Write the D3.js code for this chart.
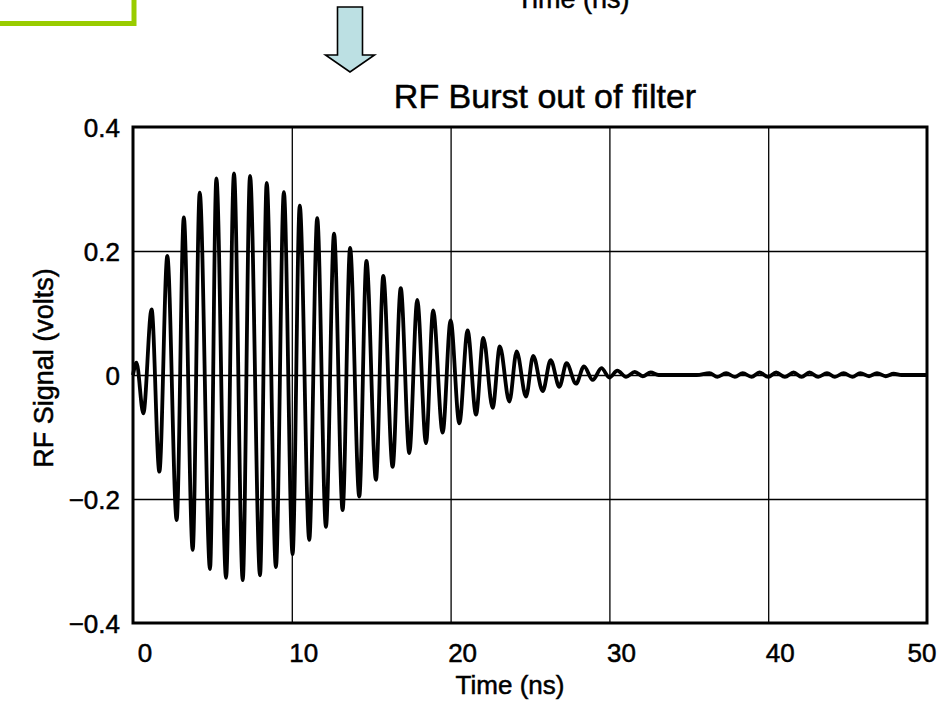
<!DOCTYPE html>
<html>
<head>
<meta charset="utf-8">
<script src="https://cdn.jsdelivr.net/npm/d3@7"></script>
<style>
  html, body { margin: 0; padding: 0; background: #fff; }
  svg { display: block; }
  text { font-family: "Liberation Sans", Arial, Helvetica, sans-serif; fill: #000; stroke: #000; stroke-width: 0.5px; }
</style>
</head>
<body>
<svg id="chart" width="944" height="706"></svg>
<script>
// ---- data ----
const chartTitle = "RF Burst out of filter";
const xLabel = "Time (ns)";
const yLabel = "RF Signal (volts)";
const xTicks = [0, 10, 20, 30, 40, 50];
const xTickLabels = ["0", "10", "20", "30", "40", "50"];
const yTicks = [-0.4, -0.2, 0, 0.2, 0.4];
const yTickLabels = ["\u22120.4", "\u22120.2", "0", "0.2", "0.4"];

// burst: alternating extrema (ns, volts)
const burstTime = [0, 0.22, 0.65, 1.17, 1.66, 2.16, 2.75, 3.2, 3.76, 4.2, 4.85, 5.25, 5.86, 6.36, 6.91, 7.37,
  8.0, 8.42, 9.0, 9.5, 10.05, 10.5, 11.1, 11.6, 12.15, 12.66, 13.2, 13.67, 14.25, 14.7, 15.3, 15.76,
  16.35, 16.86, 17.4, 17.9, 18.45, 18.9, 19.5, 20.0, 20.55, 21.07, 21.6, 22.06, 22.65, 23.1, 23.7, 24.16,
  24.75, 25.2, 25.8, 26.3, 26.85, 27.3, 27.9, 28.4, 28.95, 29.5, 30.0, 30.5, 31.05, 31.6, 32.1, 32.6, 33.1];
const burstVolts = [0, 0.02, -0.062, 0.106, -0.156, 0.192, -0.234, 0.254, -0.282, 0.294, -0.313, 0.317, -0.327, 0.325, -0.331, 0.321,
  -0.323, 0.310, -0.310, 0.295, -0.289, 0.273, -0.266, 0.253, -0.245, 0.228, -0.218, 0.205, -0.196, 0.184, -0.169, 0.160,
  -0.148, 0.140, -0.126, 0.121, -0.110, 0.104, -0.093, 0.088, -0.078, 0.072, -0.064, 0.060, -0.053, 0.046, -0.043, 0.038,
  -0.035, 0.031, -0.026, 0.024, -0.019, 0.019, -0.014, 0.014, -0.008, 0.011, -0.004, 0.007, -0.003, 0.005, -0.002, 0.004, 0];

// late small ripple
const tailTime = [35.5, 36.3, 36.8, 37.35, 37.9, 38.4, 38.95, 39.45, 40.0, 40.5, 41.05, 41.6, 42.1, 42.6, 43.15,
  43.7, 44.2, 44.75, 45.3, 45.8, 46.35, 46.85, 47.4, 47.9, 48.4, 50];
const tailVolts = [0, 0.003, -0.003, 0.003, -0.003, 0.003, -0.003, 0.004, -0.003, 0.004, -0.003, 0.004, -0.003, 0.004, -0.003,
  0.003, -0.003, 0.003, -0.003, 0.003, -0.002, 0.003, -0.002, 0.002, 0, 0];

// ---- drawing ----
const svg = d3.select("#chart");
const plot = { left: 133, right: 927, top: 127, bottom: 623 };

const x = d3.scaleLinear().domain([0, 50]).range([plot.left, plot.right]);
const y = d3.scaleLinear().domain([-0.4, 0.4]).range([plot.bottom, plot.top]);

// decorations from the slide: green box corner and down arrow
svg.append("rect")
  .attr("x", -20).attr("y", -20).attr("width", 154).attr("height", 43.5)
  .attr("fill", "none").attr("stroke", "#99CC00").attr("stroke-width", 5);

const ax = 350;
svg.append("path")
  .attr("d", `M${ax-12.5},7 L${ax+12.5},7 L${ax+12.5},55 L${ax+24.5},55 L${ax},72 L${ax-24.5},55 L${ax-12.5},55 Z`)
  .attr("fill", "#BCE0E3").attr("stroke", "#000").attr("stroke-width", 1.6).attr("stroke-linejoin", "miter");

// cut-off axis title of the chart above (cut off at the top edge as in the reference)
svg.append("text")
  .attr("x", 573).attr("y", 8)
  .attr("text-anchor", "middle").attr("font-size", 27)
  .text(xLabel);

// gridlines
const grid = svg.append("g");
grid.append("g")
  .attr("transform", `translate(0,${plot.bottom})`)
  .call(d3.axisBottom(x).tickValues(xTicks.filter(v => v > 0 && v < 50)).tickSize(plot.bottom - plot.top).tickFormat(""))
  .call(g => g.select(".domain").remove())
  .call(g => g.selectAll("line").attr("stroke", "#000").attr("stroke-width", 1.3).attr("transform", `translate(0,${-(plot.bottom - plot.top)})`));
grid.append("g")
  .attr("transform", `translate(${plot.left},0)`)
  .call(d3.axisRight(y).tickValues(yTicks.filter(v => v > -0.4 && v < 0.4)).tickSize(plot.right - plot.left).tickFormat(""))
  .call(g => g.select(".domain").remove())
  .call(g => g.selectAll("line").attr("stroke", "#000").attr("stroke-width", 1.3));

// tick labels
svg.append("g").selectAll("text")
  .data(xTicks)
  .join("text")
  .attr("x", (d, i) => Math.min(x(d) + 12, 922))
  .attr("y", 662)
  .attr("text-anchor", "middle")
  .attr("font-size", 26)
  .text((d, i) => xTickLabels[i]);

svg.append("g").selectAll("text")
  .data(yTicks)
  .join("text")
  .attr("x", 120)
  .attr("y", d => y(d) + 10)
  .attr("text-anchor", "end")
  .attr("font-size", 26)
  .text((d, i) => yTickLabels[i]);

// axis titles and chart title
svg.append("text")
  .attr("x", 510).attr("y", 694)
  .attr("text-anchor", "middle").attr("font-size", 26)
  .text(xLabel);

svg.append("text")
  .attr("transform", `translate(53,368) rotate(-90)`)
  .attr("text-anchor", "middle").attr("font-size", 27)
  .text(yLabel);

svg.append("text")
  .attr("x", 545).attr("y", 108)
  .attr("text-anchor", "middle").attr("font-size", 34)
  .text(chartTitle);

// signal
const pts = burstTime.map((t, i) => [t, burstVolts[i]])
  .concat(tailTime.map((t, i) => [t, tailVolts[i]]));
const line = d3.line().x(d => x(d[0])).y(d => y(d[1])).curve(d3.curveMonotoneX);
svg.append("path")
  .datum(pts)
  .attr("d", line)
  .attr("fill", "none")
  .attr("stroke", "#000")
  .attr("stroke-width", 3.8)
  .attr("stroke-linejoin", "round");

// frame
svg.append("rect")
  .attr("x", plot.left).attr("y", plot.top)
  .attr("width", plot.right - plot.left).attr("height", plot.bottom - plot.top)
  .attr("fill", "none").attr("stroke", "#000").attr("stroke-width", 3);
</script>
</body>
</html>
